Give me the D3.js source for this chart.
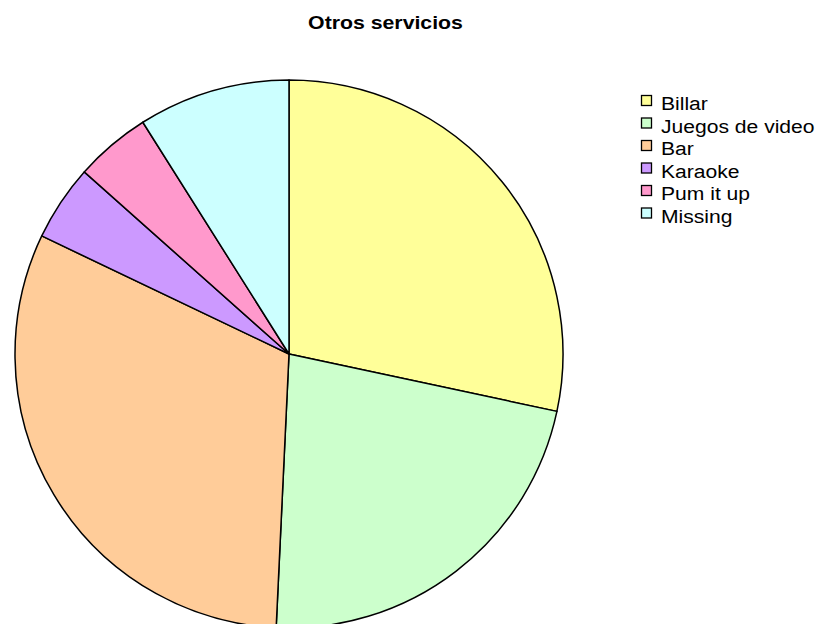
<!DOCTYPE html>
<html>
<head>
<meta charset="utf-8">
<script src="https://cdn.jsdelivr.net/npm/d3@7/dist/d3.min.js"></script>
<style>
  html, body { margin: 0; padding: 0; background: #ffffff; }
  svg { display: block; }
</style>
</head>
<body>
<svg id="chart" width="818" height="624"></svg>
<script>
// Data
const title = "Otros servicios";
const categories = ["Billar", "Juegos de video", "Bar", "Karaoke", "Pum it up", "Missing"];
const counts = [19, 15, 21, 3, 3, 6];
const colors = ["#FFFF99", "#CCFFCC", "#FFCC99", "#CC99FF", "#FF99CC", "#CCFFFF"];

const svg = d3.select("#chart");
const cx = 289, cy = 354, radius = 274;
const fontFamily = "'Liberation Sans', Arial, Helvetica, sans-serif";

const rows = categories.map((c, i) => ({ name: c, value: counts[i], color: colors[i] }));

const pie = d3.pie().value(d => d.value).sort(null);
const arc = d3.arc().innerRadius(0).outerRadius(radius);

const g = svg.append("g").attr("transform", `translate(${cx},${cy})`);
g.selectAll("path")
  .data(pie(rows))
  .join("path")
  .attr("d", arc)
  .attr("fill", d => d.data.color)
  .attr("stroke", "#000")
  .attr("stroke-width", 1.5)
  .attr("stroke-linejoin", "round");

// Title (glyphs drawn a little wide)
svg.append("text")
  .attr("transform", "translate(385.5,29) scale(1.12,1)")
  .attr("text-anchor", "middle")
  .attr("font-family", fontFamily)
  .attr("font-weight", "bold")
  .attr("font-size", 19)
  .attr("fill", "#000")
  .text(title);

// Legend
const legendX = 641, legendY = 110, step = 22.5;
const legend = svg.append("g");
const item = legend.selectAll("g")
  .data(rows)
  .join("g")
  .attr("transform", (d, i) => `translate(${legendX},${legendY + i * step})`);
item.append("rect")
  .attr("x", 0.5).attr("y", -14.5)
  .attr("width", 10).attr("height", 10)
  .attr("fill", d => d.color)
  .attr("stroke", "#000")
  .attr("stroke-width", 1.3);
item.append("text")
  .attr("transform", "translate(20,0) scale(1.11,1)")
  .attr("font-family", fontFamily)
  .attr("font-size", 19)
  .attr("fill", "#000")
  .text(d => d.name);
</script>
</body>
</html>
